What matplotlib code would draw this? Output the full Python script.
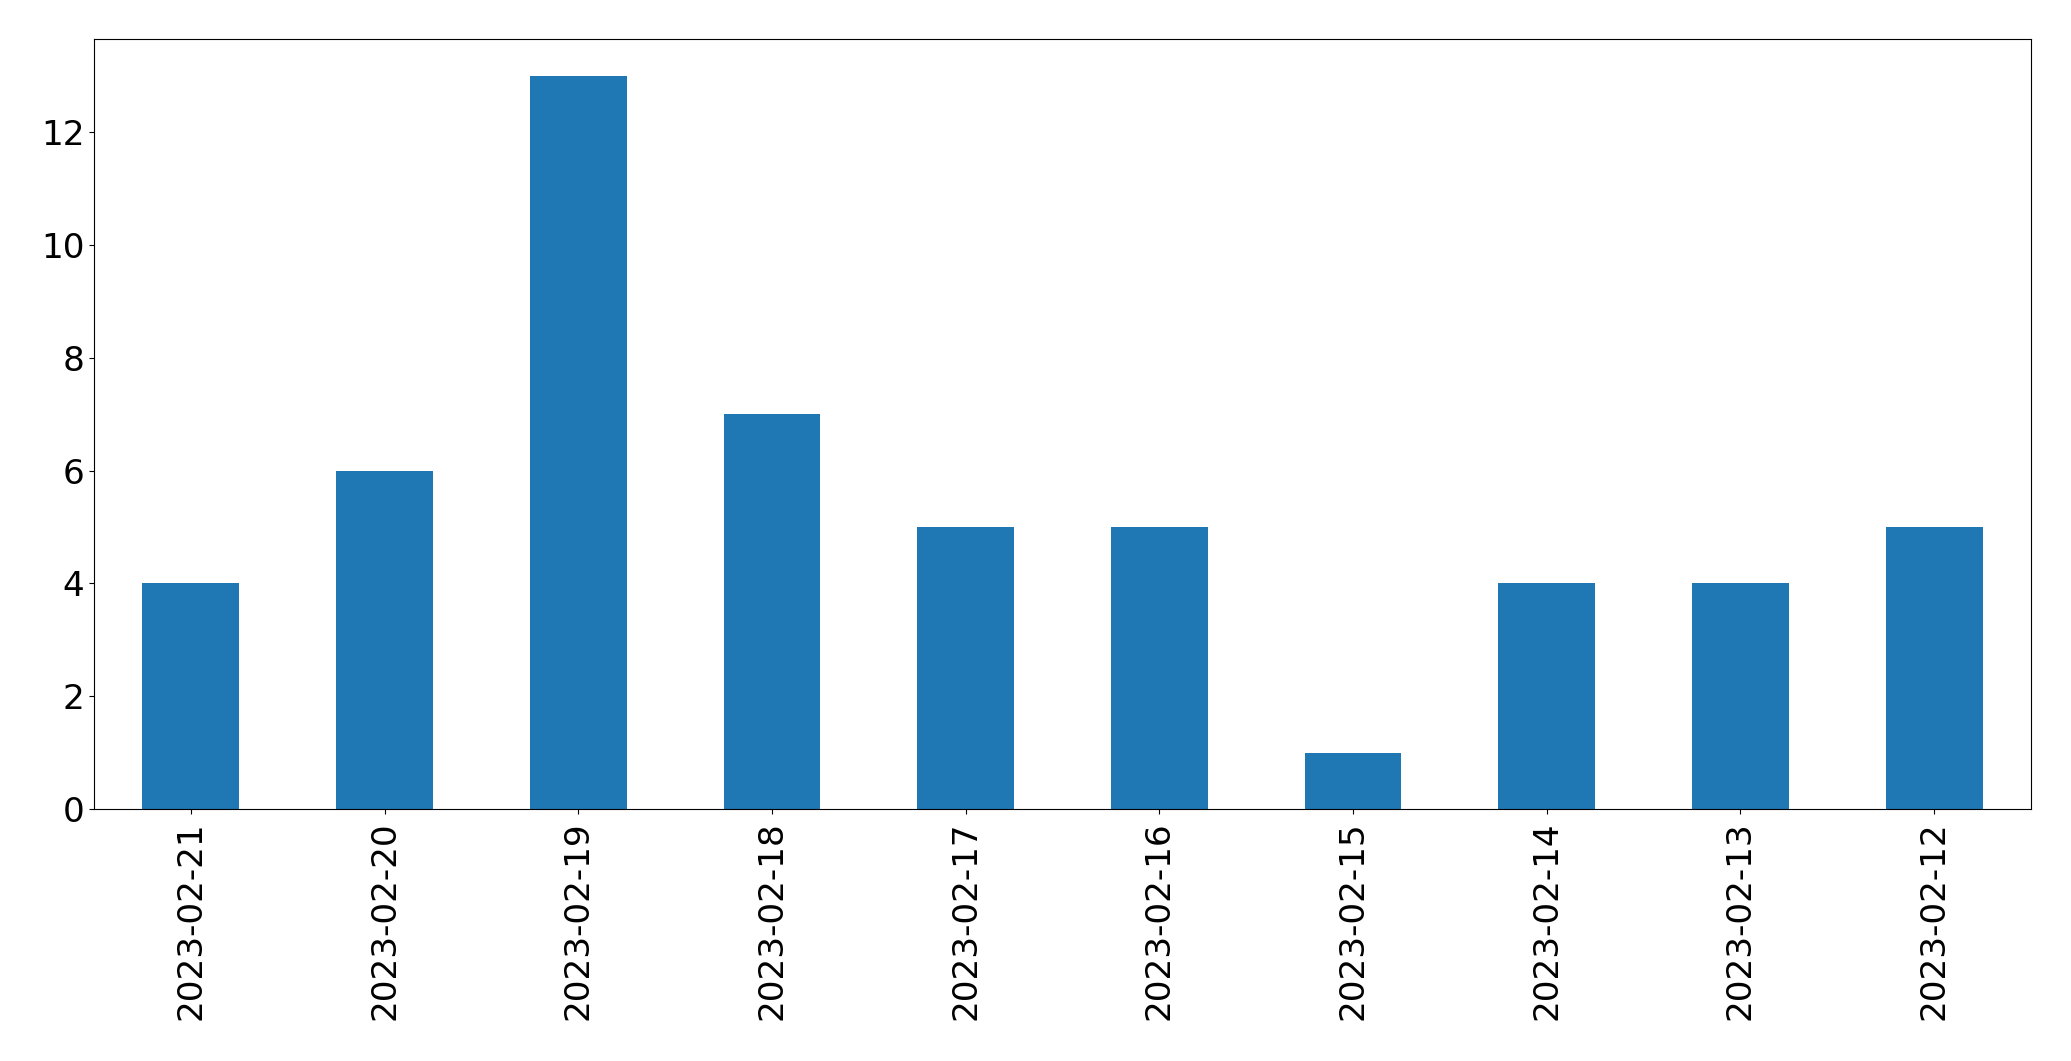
import matplotlib
matplotlib.use("Agg")
import matplotlib.pyplot as plt
import pandas as pd

dates = ["2023-02-21", "2023-02-20", "2023-02-19", "2023-02-18", "2023-02-17",
         "2023-02-16", "2023-02-15", "2023-02-14", "2023-02-13", "2023-02-12"]
counts = [4, 6, 13, 7, 5, 5, 1, 4, 4, 5]

plt.rcParams['font.size'] = 24.7

fig = plt.figure(figsize=(20.71, 10.61), dpi=100)
ax = fig.add_axes([94 / 2071, 1 - 809 / 1061, (2031 - 94) / 2071, (809 - 39) / 1061])

s = pd.Series(counts, index=dates)
s.plot(kind="bar", ax=ax, color="#1f77b4")
ax.tick_params(axis='both', labelsize=24.7)
ax.tick_params(axis='x', pad=5.5)

fig.savefig("out.png", dpi=100)
